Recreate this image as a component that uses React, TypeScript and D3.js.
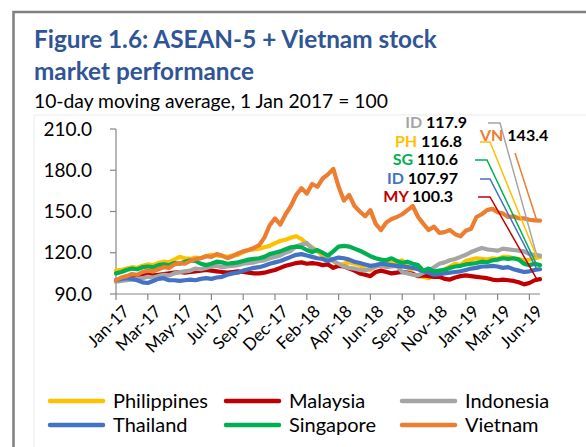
import React from "react";
import * as d3 from "d3";

const tickLabels = [
  "Jan-17", "Mar-17", "May-17", "Jul-17", "Sep-17", "Dec-17", "Feb-18",
  "Apr-18", "Jun-18", "Sep-18", "Nov-18", "Jan-19", "Mar-19", "Jun-19",
];
const tickStep = 6;
const yTicks = [90, 120, 150, 180, 210];

const philippines = [
  107, 107.5, 108.5, 109.5, 109, 110.5, 111.5, 111, 112.5, 113.5,
  113, 115, 117, 116, 115.5, 116.5, 116, 117.5, 118.5, 118,
  117.5, 117, 118, 118.5, 120.5, 122, 122.5, 123, 124, 125,
  127, 128.5, 129.5, 131, 132, 130, 126.5, 124, 121, 118,
  116, 114, 111, 112, 113, 112, 111, 108, 107.5, 110,
  111, 112, 112.5, 113, 114.5, 110, 105, 103, 102.5, 101.5,
  104, 106, 108, 110, 112, 111, 114, 115, 116, 115.5,
  115, 116, 115.5, 117, 117, 116, 115.5, 114.5, 115, 116, 116.8,
];
const malaysia = [
  100, 100.5, 101, 102, 103, 104, 104, 103.5, 104, 104.5,
  105, 105.5, 106, 105.5, 106, 106.5, 107, 107.5, 107, 106.5,
  106, 105.5, 106, 106.5, 106, 105.5, 105, 105, 105.5, 106.5,
  107.5, 109, 110.5, 111.5, 112.5, 113, 112, 112.5, 112, 111,
  111.5, 109, 110.5, 110, 108.5, 107, 105, 104, 103, 106,
  107, 106, 105, 105.5, 106, 105.5, 104.5, 103, 103.5, 103,
  102.5, 102.5, 101, 100.5, 102, 103, 103.5, 103, 102.5, 102,
  101.5, 100.5, 100, 100.5, 100, 99.5, 98.5, 97, 98, 100, 100.8,
];
const indonesia = [
  99, 99.5, 100, 100.5, 101, 101.5, 102.5, 102, 103, 104,
  103.5, 105, 106, 106.5, 107, 108.5, 108, 109, 110, 110.5,
  109.5, 110, 110.5, 111, 112, 112.5, 113, 114, 114.5, 116,
  117, 118, 120, 121.5, 124.5, 126, 127, 123, 121.5, 120,
  117, 114, 112, 110, 109, 108.5, 107.5, 107, 108.5, 110,
  110.5, 109.5, 110, 110.5, 106, 105, 104, 103.5, 105.5, 107,
  109.5, 112, 113, 114.5, 115.5, 117, 118.5, 120.5, 122, 123.5,
  122.5, 122, 121.5, 123, 122.5, 122, 121.5, 121, 119, 118.5, 117.9,
];
const thailand = [
  100, 101, 101.5, 101, 100, 98.5, 98, 99.5, 101, 101.5,
  100, 100, 99.5, 100, 100.5, 100, 101, 101.5, 101, 102,
  102.5, 104, 105, 105.5, 107, 108, 109, 109.5, 110.5, 112,
  113, 114, 115.5, 117, 118.5, 119, 118, 117, 116, 115.5,
  114, 115.5, 116.5, 116, 115, 113.5, 112.5, 111.5, 110.5, 111,
  112, 111.5, 111, 110.5, 110, 109.5, 109, 108, 106.5, 105.5,
  104, 104.5, 105, 105.5, 106, 106.5, 107.5, 108.5, 109, 110,
  110, 110.5, 110, 109, 109.5, 108, 107, 106, 106.5, 107.5, 108,
];
const singapore = [
  105, 106, 107.5, 108.5, 108, 109.5, 110, 109.5, 111, 111.5,
  111, 112.5, 112, 113.5, 114.5, 114, 112, 111, 112, 113.5,
  113, 112, 112.5, 113, 114, 115, 115.5, 116, 117, 119,
  120, 121, 122.5, 124, 124.5, 124, 122, 120.5, 122, 120,
  118, 121, 124.5, 125, 124.5, 123, 121.5, 119.5, 117.5, 116,
  115, 114.5, 116, 114, 112.5, 113.5, 112, 111, 107, 108.5,
  106.5, 107, 107.5, 109, 110, 110.5, 111.5, 112, 112.5, 113.5,
  113, 114.5, 115, 116, 115.5, 116, 115, 112, 111, 112, 111,
];
const vietnam = [
  100, 102, 103, 104.5, 104, 106, 107, 106.5, 108, 109.5,
  109, 111.5, 112.5, 112, 114, 115.5, 116, 117.5, 117, 119,
  118, 116, 117.5, 119.5, 121, 122, 123.5, 125.5, 131, 140,
  145, 140.5, 148, 154, 162, 167, 163, 170, 168, 174,
  177, 181, 168, 158, 162, 154, 150, 146.5, 151, 141,
  136.5, 142, 144.5, 146, 148, 151, 154, 146, 141, 136.5,
  139, 134.5, 135, 136.5, 133.5, 132, 136, 137.5, 146, 148,
  151, 152, 149.5, 148.5, 146, 146.5, 145, 145, 144, 143.5, 143.4,
];

const seriesNames = ["Philippines", "Malaysia", "Indonesia", "Thailand", "Singapore", "Vietnam"];
const seriesValues = [philippines, malaysia, indonesia, thailand, singapore, vietnam];
const seriesColors = ["#FFC000", "#C00000", "#A5A5A5", "#4472C4", "#00B050", "#ED7D31"];

// end-of-series annotations
const annCodes = ["ID", "PH", "SG", "ID", "MY"];
const annValues = ["117.9", "116.8", "110.6", "107.97", "100.3"];
const annSeries = [2, 0, 4, 3, 1];
const vnCode = "VN";
const vnValue = "143.4";

const FONT = "Lato, 'Open Sans', sans-serif";

export default function App() {
  const n = vietnam.length;
  const x = d3.scaleLinear().domain([0, n - 1]).range([116, 540]);
  const y = d3.scaleLinear().domain([90, 210]).range([294, 129]);
  const line = d3
    .line<number>()
    .x((_, i) => x(i))
    .y((d) => y(d));

  const tickIdx = tickLabels.map((_, k) => k * tickStep);
  const axisColor = "#878787";

  // label layout (pixel positions of the annotation block)
  const annRight = [467, 462, 458, 458, 453];
  const annBase = [128, 147, 165, 184, 202];
  const annLineStart = [488, 480, 475, 480, 478];
  const annLineBend = [500, 490, 487, 490, 490];
  const endIdx = n - 1.6;

  const legendCols = [50, 226, 402];
  const legendRows = [401, 425];

  return (
    <svg
      width={586}
      height={447}
      style={{ position: "absolute", left: 0, top: 0, background: "#fff" }}
      fontFamily={FONT}
    >
      <rect x={0} y={0} width={586} height={447} fill="#fff" />
      {/* faint chart area */}
      <path d="M34,600 L34,115 L600,115" fill="none" stroke="#ececec" strokeWidth={1} />
      {/* outer frame */}
      <path d="M13.5,600 L13.5,12 L600,12" fill="none" stroke="#7f7f7f" strokeWidth={2.5} />

      <text x={34} y={48} fontSize={24.3} fontWeight="bold" fill="#2F5597">
        Figure 1.6: ASEAN-5 + Vietnam stock
      </text>
      <text x={34} y={80} fontSize={24.3} fontWeight="bold" fill="#2F5597">
        market performance
      </text>
      <text x={34} y={108} fontSize={19.3} fill="#000">
        10-day moving average, 1 Jan 2017 = 100
      </text>

      {/* y axis */}
      <line x1={x(0)} x2={x(0)} y1={y(210)} y2={y(90)} stroke={axisColor} strokeWidth={1.2} />
      {yTicks.map((t) => (
        <g key={t}>
          <line x1={x(0) - 6} x2={x(0)} y1={y(t)} y2={y(t)} stroke={axisColor} strokeWidth={1.2} />
          <text x={92} y={y(t)} dy="0.35em" textAnchor="end" fontSize={19} fill="#000">
            {d3.format(".1f")(t)}
          </text>
        </g>
      ))}

      {/* x axis */}
      <line x1={x(0)} x2={x(n - 1)} y1={y(90)} y2={y(90)} stroke={axisColor} strokeWidth={1.2} />
      {tickIdx.map((ti, k) => (
        <g key={ti}>
          <line x1={x(ti)} x2={x(ti)} y1={y(90)} y2={y(90) + 6} stroke={axisColor} strokeWidth={1.2} />
          <text
            transform={`translate(${x(ti) + 6},${y(90) + 10}) rotate(-45)`}
            textAnchor="end"
            dy="0.7em"
            fontSize={17}
            fill="#000"
          >
            {tickLabels[k]}
          </text>
        </g>
      ))}

      {/* series */}
      {seriesValues.map((vals, s) => (
        <path
          key={seriesNames[s]}
          d={line(vals) || ""}
          fill="none"
          stroke={seriesColors[s]}
          strokeWidth={4.2}
          strokeLinejoin="round"
          strokeLinecap="round"
        />
      ))}

      {/* annotations */}
      {annSeries.map((s, k) => {
        const vals = seriesValues[s];
        const ly = annBase[k] - 5;
        return (
          <g key={k}>
            <path
              d={`M${annLineStart[k]},${ly} L${annLineBend[k]},${ly} L${x(endIdx)},${y(vals[vals.length - 1])}`}
              fill="none"
              stroke={seriesColors[s]}
              strokeWidth={1.5}
            />
            <text x={annRight[k]} y={annBase[k]} textAnchor="end" fontSize={16} fontWeight="bold">
              <tspan fill={seriesColors[s]}>{annCodes[k]}</tspan>
              <tspan fill="#000"> {annValues[k]}</tspan>
            </text>
          </g>
        );
      })}
      <path
        d={`M515,153 L${x(endIdx)},${y(vietnam[n - 1])}`}
        fill="none"
        stroke={seriesColors[5]}
        strokeWidth={1.5}
      />
      <text x={480} y={141} fontSize={16} fontWeight="bold">
        <tspan fill={seriesColors[5]}>{vnCode}</tspan>
        <tspan fill="#000"> {vnValue}</tspan>
      </text>

      {/* legend */}
      {seriesNames.map((name, s) => {
        const col = s % 3;
        const row = Math.floor(s / 3);
        const lx = legendCols[col];
        const ly = legendRows[row];
        return (
          <g key={name}>
            <line x1={lx} x2={lx + 53} y1={ly} y2={ly} stroke={seriesColors[s]} strokeWidth={4.5} strokeLinecap="round" />
            <text x={lx + 63} y={ly} dy="0.35em" fontSize={20} fill="#000">
              {name}
            </text>
          </g>
        );
      })}
    </svg>
  );
}
